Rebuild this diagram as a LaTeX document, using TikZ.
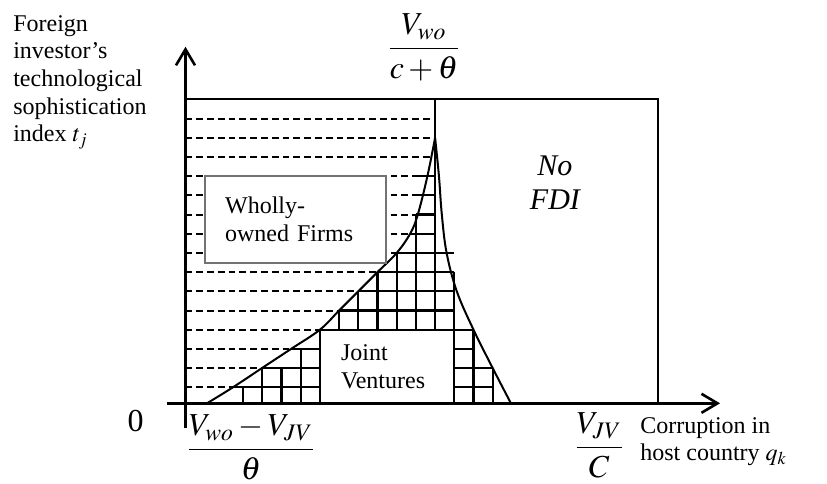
\documentclass[tikz,border=0pt]{standalone}
\usepackage{mathptmx}
\usepackage[no-math]{fontspec}
\setmainfont{Liberation Serif}
\usepackage{tikz}
\usetikzlibrary{arrows.meta}
\tikzset{
  axis/.style={line width=1.3pt,-{Straight Barb[length=8pt,width=9.5pt]}},
  frm/.style={line width=1pt},
  cell/.style={line width=1.1pt},
  wodash/.style={line width=1pt,dash pattern=on 3.4pt off 2pt},
  bnd/.style={line width=1pt},
  txt/.style={font=\fontsize{12}{13.8}\selectfont,inner sep=0pt},
  mth/.style={font=\fontsize{16}{18}\selectfont,inner sep=0pt},
  regbox/.style={fill=white,font=\fontsize{12}{13.8}\selectfont,align=left,inner ysep=0pt},
}

\begin{document}
\begin{tikzpicture}[x=9.6pt,y=9.6pt]
  \useasboundingbox (-9.661,-4.151) rectangle (33.411,21.005);
  % ---------------- wholly-owned firms: dashed rows
  \foreach \k/\xe in {0/2.47,1/3.98,2/5.5,3/7,4/8,5/9,6/10,7/11,8/11.7,9/12,10/12,11/12,12/12.75,13/13,14/13}{
    \draw[wodash] (0,\k+0.833) -- (\xe,\k+0.833);
  }
  % ---------------- joint ventures: the grid
  \foreach \xa/\xb/\k in {2.47/7/0,3.98/7/1,5.5/7/2,14/16/0,14/16/1,14/15/2,14/15/3,8/14/4,9/14/5,10/14/6,11/14/7,11.7/13/8,12/13/9,12/13/10,12/13/11}{
    \draw[cell] (\xa,\k+0.833) -- (\xb,\k+0.833);
  }
  \foreach \x/\ya/\yb in {3/0/0.833,4/0/1.833,5/0/1.833,6/0/2.833,8/3.833/4.833,9/3.833/5.833,10/3.833/6.833,11/3.833/7.833,12/3.833/9.833,14/3.833/6.833,15/0/3.833,16/0/1.833}{
    \draw[cell] (\x,\ya) -- (\x,\yb);
  }
  % ---------------- frame and no-FDI area
  \draw[frm] (0,15.833) -- (24.59,15.833) -- (24.59,0);
  \draw[frm] (13,15.833) -- (13,3.833);
  % ---------------- the two boundaries
  \draw[bnd] plot[smooth,tension=.6] coordinates {(1.12,0) (2.47,0.833) (3.98,1.833) (5.5,2.833) (7,3.833) (8,4.833) (9,5.833) (10,6.833) (11,7.833) (11.7,8.833) (12.1,9.833) (12.6,11.833) (13,13.833)};
  \draw[bnd] plot[smooth,tension=.6] coordinates {(13,13.833) (13.2,11.833) (13.35,9.833) (13.6,7.833) (14.13,5.833) (15,3.833) (16,1.833) (16.95,0)};
  % ---------------- regions
  \node[regbox,draw=black!55,line width=.9pt,minimum height=43.3pt,text width=70.3pt,inner xsep=10pt] (wo) at (5.725,9.577) {Wholly-\\owned Firms\\[-3pt]};
  \node[regbox,draw=black,line width=1pt,minimum height=36.8pt,text width=46pt,inner xsep=10.6pt] (jv) at (10.5,1.9165) {Joint\\Ventures};
  \node[font=\fontsize{15}{17}\selectfont\itshape,inner sep=0pt,align=center,anchor=north] (nofdi) at (19.24,12.93) {No\\FDI};
  % ---------------- axes
  \draw[axis] (-0.98,0) -- (27.84,0);
  \draw[axis] (0,-1.3) -- (0,18.57);
  \node[txt,align=left,anchor=north west] (ylbl) at (-8.99,20.22) {Foreign\\investor's\\technological\\sophistication\\index $t_j$};
  \node[txt,align=left,anchor=north west] (xlbl) at (23.67,-0.70) {Corruption in\\host country $q_k$};
  \node[mth] (zero) at (-2.6,-0.92) {0};
  \node[mth] (peak) at (12.42,18.52) {$\displaystyle\frac{V_{wo}}{c+\theta}$};
  \node[mth] (lo) at (3.41,-2.3) {$\displaystyle\frac{V_{wo}-V_{JV}}{\theta}$};
  \node[mth] (hi) at (21.55,-2.2) {$\displaystyle\frac{V_{JV}}{C}$};
\end{tikzpicture}
\end{document}
